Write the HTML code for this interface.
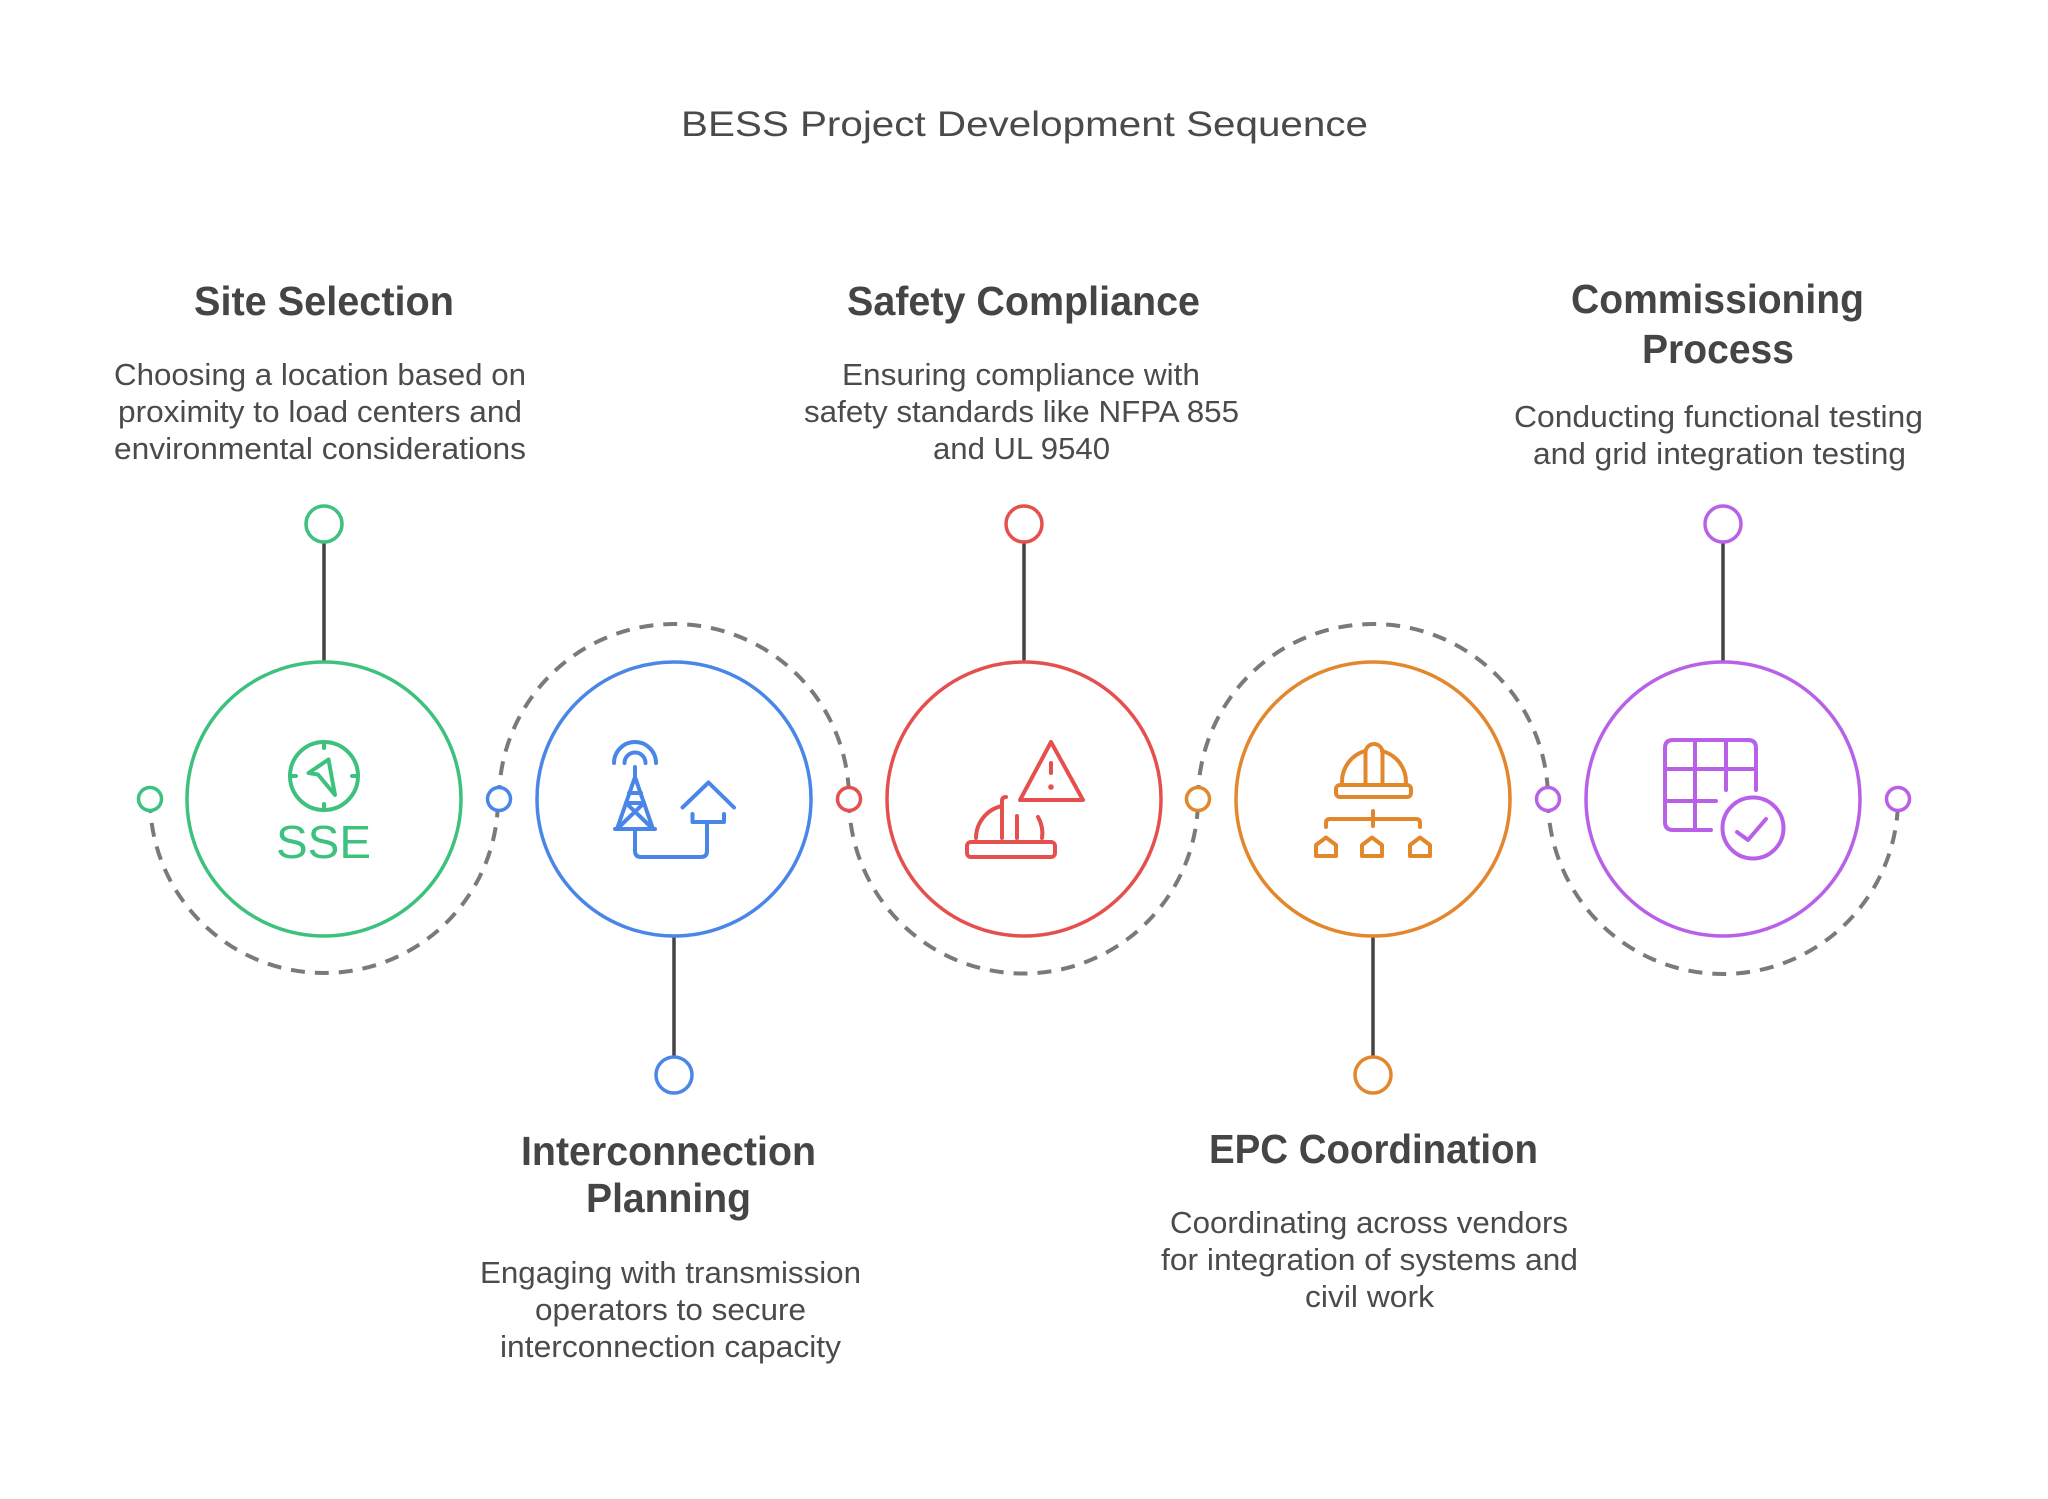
<!DOCTYPE html>
<html><head><meta charset="utf-8"><style>
html,body{margin:0;padding:0;background:#fff;}
svg{display:block;}
text{font-family:"Liberation Sans",Arial,sans-serif;}
.t{font-weight:bold;font-size:41px;fill:#454545;}
.d{font-size:31px;fill:#4b4b4b;}
.ic{fill:none;stroke-width:4;stroke-linecap:round;stroke-linejoin:round;}
</style></head><body>
<svg width="2048" height="1499" viewBox="0 0 2048 1499" xmlns="http://www.w3.org/2000/svg">
<rect width="2048" height="1499" fill="#fff"/>

<!-- Main title -->
<text x="681" y="136" font-size="35" fill="#4a4a4a" textLength="687" lengthAdjust="spacingAndGlyphs">BESS Project Development Sequence</text>

<!-- Dashed arcs -->
<g fill="none" stroke="#7a7a7a" stroke-width="4" stroke-dasharray="14 10">
  <path d="M150 799 A174 174 0 0 0 498 799"/>
  <path d="M499 799 A175 175 0 0 1 849 799"/>
  <path d="M849 799 A174.5 174.5 0 0 0 1198 799"/>
  <path d="M1198 799 A175 175 0 0 1 1548 799"/>
  <path d="M1548 799 A175 175 0 0 0 1898 799"/>
</g>

<!-- Connectors -->
<g stroke="#444" stroke-width="3.5">
  <line x1="324" y1="542" x2="324" y2="662"/>
  <line x1="1024" y1="542" x2="1024" y2="662"/>
  <line x1="1723" y1="542" x2="1723" y2="662"/>
  <line x1="674" y1="937" x2="674" y2="1057"/>
  <line x1="1373" y1="937" x2="1373" y2="1057"/>
</g>

<!-- Main circles -->
<g fill="#fff" stroke-width="3.5">
  <circle cx="324" cy="799" r="137" stroke="#3cc17f"/>
  <circle cx="674" cy="799" r="137" stroke="#4a86e8"/>
  <circle cx="1024" cy="799" r="137" stroke="#e5504f"/>
  <circle cx="1373" cy="799" r="137" stroke="#e3872d"/>
  <circle cx="1723" cy="799" r="137" stroke="#b861e8"/>
</g>

<!-- Side small circles -->
<g fill="#fff" stroke-width="3.5">
  <circle cx="150" cy="799" r="11.5" stroke="#3cc17f"/>
  <circle cx="499" cy="799" r="11.5" stroke="#4a86e8"/>
  <circle cx="849" cy="799" r="11.5" stroke="#e5504f"/>
  <circle cx="1198" cy="799" r="11.5" stroke="#e3872d"/>
  <circle cx="1548" cy="799" r="11.5" stroke="#b861e8"/>
  <circle cx="1898" cy="799" r="11.5" stroke="#b861e8"/>
</g>

<!-- Top/bottom end circles -->
<g fill="#fff" stroke-width="3.5">
  <circle cx="324" cy="524" r="18" stroke="#3cc17f"/>
  <circle cx="1024" cy="524" r="18" stroke="#e5504f"/>
  <circle cx="1723" cy="524" r="18" stroke="#b861e8"/>
  <circle cx="674" cy="1075" r="18" stroke="#4a86e8"/>
  <circle cx="1373" cy="1075" r="18" stroke="#e3872d"/>
</g>

<!-- Green icon: compass + SSE -->
<g class="ic" stroke="#3cc17f">
  <circle cx="324" cy="776" r="34"/>
  <path d="M324 742 V748 M324 810 V804 M290 776 H296 M358 776 H352"/>
  <path d="M328.5 759.5 L308.5 773 L318 774.5 L335 795 Z"/>
</g>
<text x="276" y="858" font-size="46" fill="#3cc17f" textLength="95" lengthAdjust="spacingAndGlyphs">SSE</text>

<!-- Blue icon: tower + house -->
<g class="ic" stroke="#4a86e8">
  <path d="M614 763 A21 21 0 0 1 656 763"/>
  <path d="M624.5 763 A10.5 10.5 0 0 1 645.5 763"/>
  <path d="M635 767 V777"/>
  <path d="M617 829 L635 777 L653 829"/>
  <path d="M615 829 H655"/>
  <path d="M629 793 H641 M626 803 H644"/>
  <path d="M626 803 L653 829 M644 803 L617 829"/>
  <path d="M635 829 V851 Q635 857 641 857 H701 Q707 857 707 851 V822"/>
  <path d="M682.5 807.5 L708.5 782.5 L734 807.5"/>
  <path d="M692.5 814 V822 H724 V814"/>
</g>

<!-- Red icon: warning + helmet -->
<g class="ic" stroke="#e5504f">
  <path d="M1051 742 L1083 800 L1020 800 Z"/>
  <path d="M1051 763 V773"/>
  <path d="M976 838 A33 33 0 0 1 1002 806"/>
  <path d="M1002 838 V801 Q1002 797 1006 797"/>
  <path d="M1017 816 V838"/>
  <path d="M1038 817 A33 33 0 0 1 1042 838"/>
  <rect x="967" y="842" width="88" height="15" rx="4"/>
</g>
<circle cx="1051" cy="787" r="2.8" fill="#e5504f"/>

<!-- Orange icon: helmet + hierarchy -->
<g class="ic" stroke="#e3872d">
  <path d="M1342 782 A32 32 0 0 1 1365 751"/>
  <path d="M1382 751 A32 32 0 0 1 1406 782"/>
  <path d="M1365.5 782 V752.5 A8.5 8.5 0 0 1 1382.5 752.5 V782"/>
  <rect x="1336" y="785" width="75" height="12" rx="4"/>
  <path d="M1373 811 V826"/>
  <path d="M1326 827 V823 Q1326 819 1330 819 H1416 Q1420 819 1420 823 V827"/>
  <path d="M1316 856 V845 L1326 837.5 L1336 845 V856 Z"/>
  <path d="M1362 856 V845 L1372 837.5 L1382 845 V856 Z"/>
  <path d="M1410 856 V845 L1420 837.5 L1430 845 V856 Z"/>
</g>

<!-- Purple icon: grid + check -->
<g class="ic" stroke="#b861e8">
  <path d="M1756 790 V748 Q1756 740 1748 740 H1673 Q1665 740 1665 748 V822 Q1665 830 1673 830 H1711"/>
  <path d="M1695 740 V830 M1726 740 V790"/>
  <path d="M1665 769 H1756 M1665 801 H1716"/>
  <circle cx="1753" cy="828" r="30.5"/>
  <path d="M1737 832 L1748 840 L1766 819"/>
</g>

<!-- Top labels -->
<text class="t" x="194" y="315" textLength="260" lengthAdjust="spacingAndGlyphs">Site Selection</text>
<text class="d" x="114" y="385" textLength="412" lengthAdjust="spacingAndGlyphs">Choosing a location based on</text>
<text class="d" x="118" y="422" textLength="404" lengthAdjust="spacingAndGlyphs">proximity to load centers and</text>
<text class="d" x="114" y="459" textLength="412" lengthAdjust="spacingAndGlyphs">environmental considerations</text>

<text class="t" x="847" y="315" textLength="353" lengthAdjust="spacingAndGlyphs">Safety Compliance</text>
<text class="d" x="842" y="385" textLength="358" lengthAdjust="spacingAndGlyphs">Ensuring compliance with</text>
<text class="d" x="804" y="422" textLength="435" lengthAdjust="spacingAndGlyphs">safety standards like NFPA 855</text>
<text class="d" x="933" y="459" textLength="177" lengthAdjust="spacingAndGlyphs">and UL 9540</text>

<text class="t" x="1571" y="313" textLength="293" lengthAdjust="spacingAndGlyphs">Commissioning</text>
<text class="t" x="1642" y="363" textLength="152" lengthAdjust="spacingAndGlyphs">Process</text>
<text class="d" x="1514" y="427" textLength="409" lengthAdjust="spacingAndGlyphs">Conducting functional testing</text>
<text class="d" x="1533" y="464" textLength="373" lengthAdjust="spacingAndGlyphs">and grid integration testing</text>

<!-- Bottom labels -->
<text class="t" x="521" y="1165" textLength="295" lengthAdjust="spacingAndGlyphs">Interconnection</text>
<text class="t" x="586" y="1212" textLength="165" lengthAdjust="spacingAndGlyphs">Planning</text>
<text class="d" x="480" y="1283" textLength="381" lengthAdjust="spacingAndGlyphs">Engaging with transmission</text>
<text class="d" x="535" y="1320" textLength="271" lengthAdjust="spacingAndGlyphs">operators to secure</text>
<text class="d" x="500" y="1357" textLength="341" lengthAdjust="spacingAndGlyphs">interconnection capacity</text>

<text class="t" x="1209" y="1163" textLength="329" lengthAdjust="spacingAndGlyphs">EPC Coordination</text>
<text class="d" x="1170" y="1233" textLength="398" lengthAdjust="spacingAndGlyphs">Coordinating across vendors</text>
<text class="d" x="1161" y="1270" textLength="417" lengthAdjust="spacingAndGlyphs">for integration of systems and</text>
<text class="d" x="1305" y="1307" textLength="129" lengthAdjust="spacingAndGlyphs">civil work</text>
</svg>
</body></html>
